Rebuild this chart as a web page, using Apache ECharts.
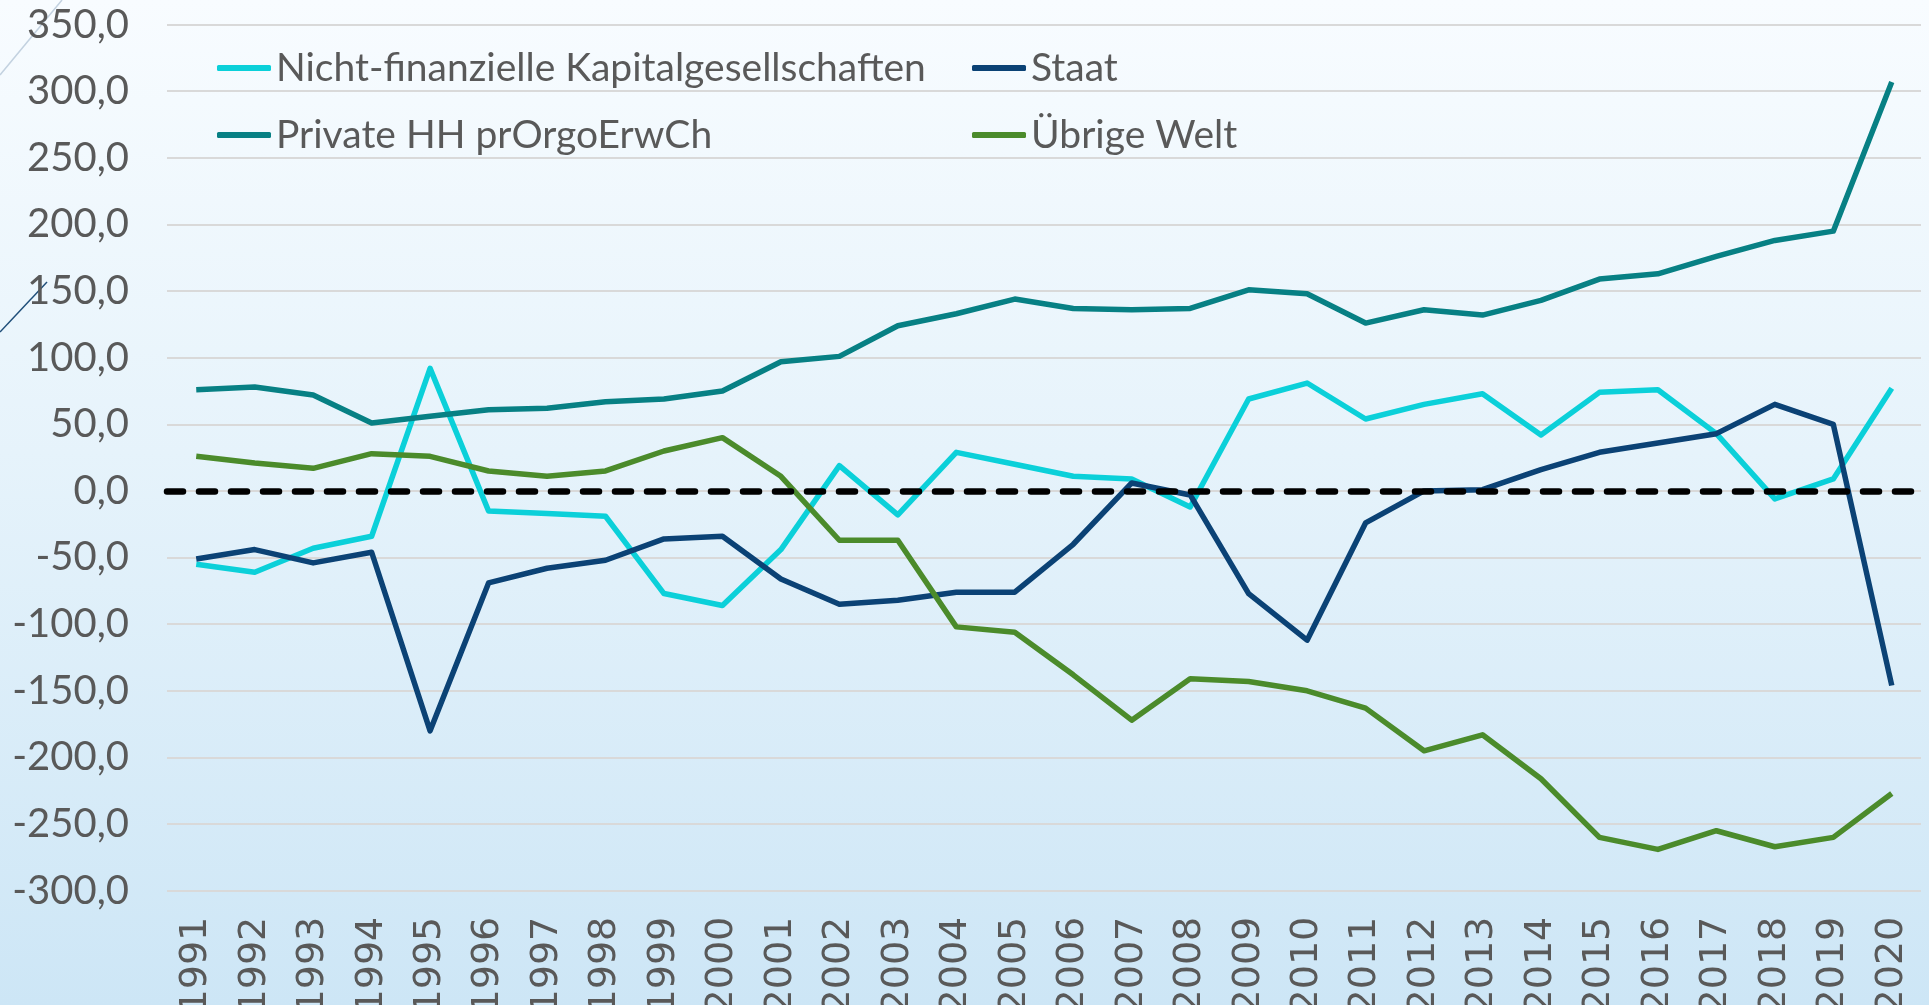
<!DOCTYPE html>
<html>
<head>
<meta charset="utf-8">
<script src="https://cdn.jsdelivr.net/npm/echarts@6/dist/echarts.min.js"></script>
<style>
  html, body {
    margin: 0;
    padding: 0;
    width: 100%;
    height: 100%;
    overflow: hidden;
  }
  body {
    background: linear-gradient(to bottom, #f8fcff 0%, #e6f3fb 45%, #cde6f6 100%);
  }
  #saldenChart {
    width: 1929px;
    height: 1005px;
  }
</style>
</head>
<body>
<div id="saldenChart"></div>
<script>
// Jahre (Kategorien)
const years = ["1991", "1992", "1993", "1994", "1995", "1996", "1997", "1998", "1999", "2000",
  "2001", "2002", "2003", "2004", "2005", "2006", "2007", "2008", "2009", "2010",
  "2011", "2012", "2013", "2014", "2015", "2016", "2017", "2018", "2019", "2020"];

// Finanzierungssalden je Sektor
const nichtFinanzielle = [-55, -61, -43, -34, 92, -15, -17, -19, -77, -86,
  -44, 19, -18, 29, 20, 11, 9, -12, 69, 81,
  54, 65, 73, 42, 74, 76, 43, -6, 9, 77];
const staat = [-51, -44, -54, -46, -180, -69, -58, -52, -36, -34,
  -66, -85, -82, -76, -76, -40, 6, -3, -77, -112,
  -24, 0, 1, 16, 29, 36, 43, 65, 50, -146];
const privateHH = [76, 78, 72, 51, 56, 61, 62, 67, 69, 75,
  97, 101, 124, 133, 144, 137, 136, 137, 151, 148,
  126, 136, 132, 143, 159, 163, 176, 188, 195, 307];
const uebrigeWelt = [26, 21, 17, 28, 26, 15, 11, 15, 30, 40,
  11, -37, -37, -102, -106, -138, -172, -141, -143, -150,
  -163, -195, -183, -216, -260, -269, -255, -267, -260, -227];

// y-Achse
const yMin = -300;
const yMax = 350;
const yStep = 50;

let chart = echarts.init(document.getElementById("saldenChart"));

const color = ["#0bd0d9", "#0b4275", "#078084", "#4b8b2b"];
const textColor = "#595959";

const legendText = {
  color: textColor,
  fontFamily: "Lato",
  fontSize: 39,
  lineHeight: 40,
};
const legendCommon = {
  orient: "vertical",
  top: 48,
  itemGap: 27,
  itemWidth: 54,
  itemHeight: 6,
  icon: "roundRect",
  textStyle: legendText,
  padding: 0,
};

let seriesData = [
  { name: "Nicht-finanzielle Kapitalgesellschaften", data: nichtFinanzielle },
  { name: "Staat", data: staat },
  { name: "Private HH prOrgoErwCh", data: privateHH },
  { name: "Übrige Welt", data: uebrigeWelt },
];
const commonConfigFn = (index) => {
  return {
    type: "line",
    symbol: "none",
    lineStyle: {
      width: 5.5,
      color: color[index],
      join: "round",
    },
    itemStyle: { color: color[index] },
  };
};
seriesData = seriesData.map((item, index) => ({
  ...item,
  ...commonConfigFn(index),
}));

// Nulllinie gestrichelt
seriesData[3].markLine = {
  silent: true,
  symbol: "none",
  label: { show: false },
  lineStyle: {
    color: "#000",
    width: 6.5,
    type: [16, 16],
    cap: "round",
  },
  data: [{ yAxis: 0 }],
};

const option = {
  color,
  animation: false,
  legend: [
    { ...legendCommon, left: 217, data: [seriesData[0].name, seriesData[2].name] },
    { ...legendCommon, left: 972, data: [seriesData[1].name, seriesData[3].name] },
  ],
  grid: {
    left: 167,
    right: 8,
    top: 24.6,
    bottom: 114.3,
    containLabel: false,
    outerBoundsMode: "none",
  },
  xAxis: {
    type: "category",
    data: years,
    boundaryGap: true,
    axisLine: { show: false },
    axisTick: { show: false },
    axisLabel: {
      rotate: 90,
      margin: 26,
      color: textColor,
      fontFamily: "DejaVu Sans",
      fontSize: 38,
      interval: 0,
    },
  },
  yAxis: {
    type: "value",
    min: yMin,
    max: yMax,
    interval: yStep,
    axisLine: { show: false },
    axisTick: { show: false },
    axisLabel: {
      margin: 38,
      color: textColor,
      fontFamily: "Lato",
      fontSize: 40,
      formatter: (v) => v.toFixed(1).replace(".", ","),
    },
    splitLine: {
      show: true,
      lineStyle: { color: "#d9d9d9", width: 2 },
    },
  },
  graphic: [
    {
      type: "line",
      shape: { x1: 0, y1: 75, x2: 62, y2: 0 },
      style: { stroke: "#c3d2e0", lineWidth: 1.5 },
      silent: true,
    },
    {
      type: "line",
      shape: { x1: 0, y1: 332, x2: 47, y2: 282 },
      style: { stroke: "#1f4e79", lineWidth: 1.5 },
      silent: true,
    },
  ],
  series: seriesData,
};

option && chart.setOption(option);
</script>
</body>
</html>
